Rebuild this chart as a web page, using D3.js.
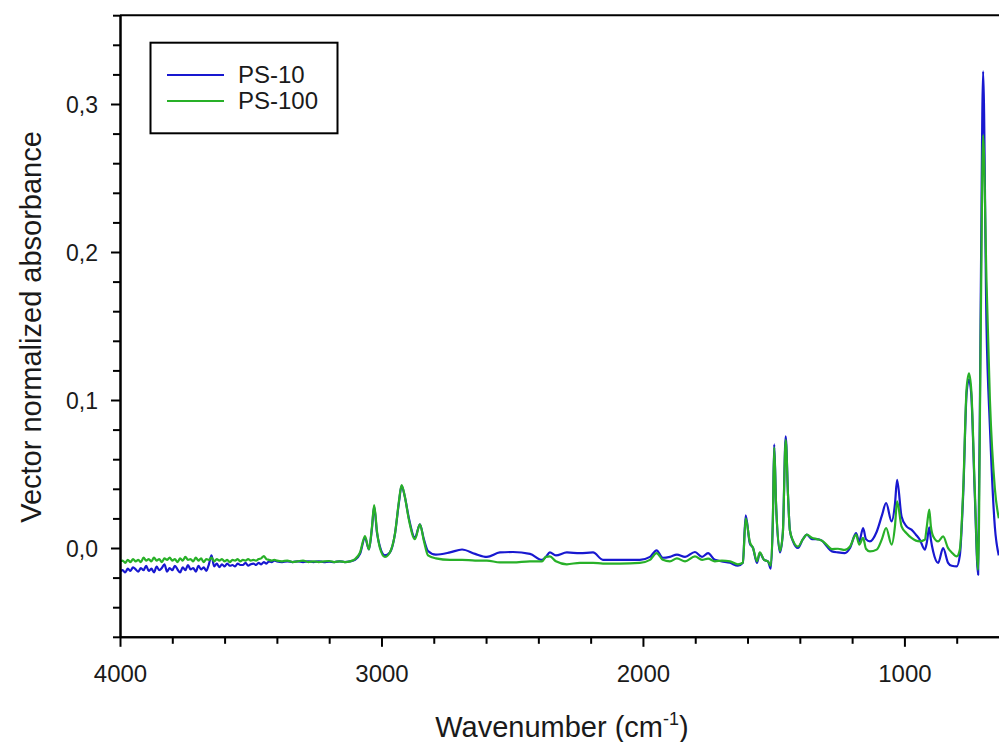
<!DOCTYPE html>
<html>

<head>
    <script src="https://cdnjs.cloudflare.com/ajax/libs/d3/7.8.5/d3.min.js"></script>
    <meta charset="utf-8">
    <title>Index</title>
    <style>
        body { margin: 0; background: #fff; }
        text { font-family: "Liberation Sans", Arial, sans-serif; fill: #1a1a1a; }
    </style>
</head>

<body>
    <script>
    // wavenumbers (cm-1)
    var wavenumber = [
        4000, 3990, 3980, 3970, 3960, 3950, 3940, 3930, 3920, 3910,
        3900, 3890, 3880, 3870, 3860, 3850, 3840, 3830, 3820, 3810,
        3800, 3790, 3780, 3770, 3760, 3750, 3740, 3730, 3720, 3710,
        3700, 3690, 3680, 3670, 3660, 3650, 3640, 3630, 3620, 3610,
        3600, 3590, 3580, 3570, 3560, 3550, 3540, 3530, 3520, 3510,
        3500, 3490, 3480, 3470, 3460, 3450, 3440, 3430, 3420, 3410,
        3400, 3380, 3360, 3340, 3320, 3300, 3280, 3260, 3240, 3220,
        3200, 3180, 3160, 3140, 3120, 3101, 3082, 3063, 3048, 3036,
        3028, 3017, 3006, 2987, 2968, 2948, 2933, 2923, 2911, 2895,
        2872, 2853, 2838, 2822, 2792, 2738, 2692, 2642, 2597, 2547,
        2497, 2432, 2386, 2371, 2356, 2333, 2291, 2241, 2191, 2153,
        2088, 2012, 1973, 1948, 1924, 1897, 1870, 1839, 1801, 1774,
        1751, 1725, 1698, 1667, 1637, 1618, 1607, 1591, 1579, 1564,
        1553, 1537, 1522, 1511, 1503, 1498, 1491, 1476, 1465, 1454,
        1445, 1438, 1426, 1407, 1388, 1373, 1354, 1335, 1316, 1296,
        1277, 1254, 1228, 1208, 1185, 1173, 1158, 1147, 1132, 1106,
        1086, 1070, 1049, 1036, 1028, 1011, 992, 973, 956, 941,
        922, 914, 905, 899, 890, 871, 852, 833, 819, 800,
        788, 775, 762, 753, 744, 731, 718, 708, 699, 686,
        673, 654, 639
    ];

    var ps10 = [
        -0.016, -0.015, -0.0165, -0.014, -0.0155, -0.013, -0.0145, -0.016, -0.0135, -0.015,
        -0.012, -0.0155, -0.014, -0.0165, -0.0125, -0.015, -0.0135, -0.011, -0.016, -0.0135,
        -0.015, -0.012, -0.0145, -0.0165, -0.013, -0.015, -0.0115, -0.0145, -0.0135, -0.016,
        -0.012, -0.0145, -0.013, -0.0155, -0.011, -0.005, -0.0125, -0.0105, -0.013, -0.011,
        -0.0125, -0.0105, -0.012, -0.0115, -0.0125, -0.0105, -0.0115, -0.0115, -0.010, -0.012,
        -0.011, -0.0105, -0.0115, -0.010, -0.011, -0.0095, -0.0105, -0.009, -0.0095, -0.0085,
        -0.009, -0.0095, -0.009, -0.0095, -0.009, -0.0095, -0.009, -0.0095, -0.009, -0.0095,
        -0.0092, -0.0095, -0.009, -0.0095, -0.009, -0.008, -0.004, 0.007, -0.001, 0.014,
        0.028, 0.010, 0.001, -0.005, -0.003, 0.010, 0.031, 0.042, 0.035, 0.020,
        0.007, 0.016, 0.006, -0.002, -0.0045, -0.003, -0.001, -0.004, -0.006, -0.003,
        -0.0027, -0.004, -0.008, -0.006, -0.003, -0.005, -0.003, -0.0035, -0.003, -0.008,
        -0.008, -0.008, -0.006, -0.0016, -0.0066, -0.006, -0.0045, -0.006, -0.0027, -0.006,
        -0.0035, -0.008, -0.009, -0.010, -0.012, -0.010, 0.022, 0.003, 0.000, -0.010,
        -0.0034, -0.008, -0.009, -0.014, 0.020, 0.070, 0.030, -0.003, 0.010, 0.0754,
        0.035, 0.012, 0.0045, 0.000, 0.006, 0.009, 0.006, 0.006, 0.005, 0.001,
        -0.0023, -0.003, -0.0034, 0.000, 0.010, 0.0045, 0.0135, 0.006, 0.0045, 0.011,
        0.022, 0.0304, 0.018, 0.030, 0.0461, 0.0213, 0.0146, 0.0124, 0.009, 0.0056,
        -0.0011, 0.004, 0.014, 0.006, -0.0023, -0.010, 0.000, -0.010, -0.012, -0.0124,
        -0.005, 0.037, 0.105, 0.114, 0.103, 0.037, -0.018, 0.17, 0.322, 0.15,
        0.082, 0.014, -0.005
    ];

    var ps100 = [
        -0.009, -0.0085, -0.010, -0.008, -0.0095, -0.0075, -0.009, -0.008, -0.0095, -0.0065,
        -0.0085, -0.0075, -0.009, -0.0065, -0.0085, -0.0075, -0.0095, -0.007, -0.008, -0.0065,
        -0.0085, -0.0075, -0.0095, -0.007, -0.0085, -0.006, -0.008, -0.0075, -0.009, -0.0065,
        -0.0085, -0.007, -0.0095, -0.0075, -0.008, -0.0065, -0.009, -0.0075, -0.0085, -0.0075,
        -0.009, -0.008, -0.0095, -0.008, -0.0085, -0.0075, -0.009, -0.008, -0.0085, -0.0075,
        -0.0085, -0.008, -0.0085, -0.0075, -0.007, -0.0055, -0.0075, -0.008, -0.0085, -0.008,
        -0.0085, -0.009, -0.0085, -0.0095, -0.009, -0.0085, -0.0095, -0.009, -0.0095, -0.009,
        -0.0088, -0.0095, -0.009, -0.0095, -0.009, -0.0075, -0.003, 0.008, -0.001, 0.015,
        0.029, 0.011, 0.000, -0.006, -0.003, 0.010, 0.032, 0.0425, 0.035, 0.019,
        0.006, 0.016, 0.005, -0.005, -0.007, -0.008, -0.008, -0.0085, -0.0085, -0.0097,
        -0.0097, -0.009, -0.009, -0.006, -0.0057, -0.009, -0.011, -0.010, -0.010, -0.0105,
        -0.0105, -0.010, -0.008, -0.0034, -0.008, -0.009, -0.007, -0.009, -0.0057, -0.008,
        -0.0072, -0.009, -0.0085, -0.009, -0.011, -0.010, 0.020, 0.004, 0.000, -0.009,
        -0.003, -0.008, -0.009, -0.012, 0.020, 0.068, 0.030, -0.002, 0.010, 0.073,
        0.035, 0.012, 0.005, 0.001, 0.006, 0.009, 0.007, 0.006, 0.005, 0.002,
        -0.0007, -0.0005, -0.0013, 0.001, 0.009, 0.0023, 0.0068, -0.0005, -0.0023, -0.0011,
        0.006, 0.0135, 0.0023, 0.015, 0.0315, 0.0146, 0.010, 0.0068, 0.005, 0.0045,
        0.0056, 0.015, 0.026, 0.015, 0.008, 0.0045, 0.0078, -0.0001, -0.003, -0.0057,
        -0.001, 0.040, 0.108, 0.118, 0.106, 0.040, -0.0147, 0.15, 0.279, 0.18,
        0.10, 0.04, 0.02
    ];

    var seriesNames = ['PS-10', 'PS-100'];
    var seriesColors = ['#1818d0', '#28b028'];
    var xMajorTicks = [4000, 3000, 2000, 1000];
    var yMajorTicks = [0, 0.1, 0.2, 0.3];

    var width = 999,
        height = 742,
        plotLeft = 120,
        plotTop = 15.2,
        plotRight = 1009,
        plotBottom = 636.8;

    var svg = d3.select('body')
        .append('svg')
        .attr('width', width)
        .attr('height', height)
        .style('display', 'block');

    var x = d3.scaleLinear().domain([4000, 600]).range([plotLeft, plotRight]);
    var y = d3.scaleLinear().domain([-0.06, 0.36]).range([plotBottom, plotTop]);

    svg.append('clipPath')
        .attr('id', 'plot-clip')
        .append('rect')
        .attr('x', plotLeft)
        .attr('y', plotTop)
        .attr('width', plotRight - plotLeft)
        .attr('height', plotBottom - plotTop);

    // spectra
    var line = d3.line()
        .curve(d3.curveMonotoneX)
        .x(function(d) { return x(d[0]); })
        .y(function(d) { return y(d[1]); });

    [ps10, ps100].forEach(function(vals, k) {
        var pts = wavenumber.map(function(w, i) { return [w, vals[i]]; });
        svg.append('path')
            .datum(pts)
            .attr('clip-path', 'url(#plot-clip)')
            .attr('fill', 'none')
            .attr('stroke', seriesColors[k])
            .attr('stroke-width', 2.2)
            .attr('stroke-linejoin', 'round')
            .attr('d', line);
    });

    // frame (top and right edges)
    svg.append('path')
        .attr('d', 'M' + plotLeft + ',' + plotTop + 'H' + plotRight + 'V' + plotBottom)
        .attr('fill', 'none')
        .attr('stroke', '#000')
        .attr('stroke-width', 2);

    // x axis
    svg.append('g')
        .attr('transform', 'translate(0,' + plotBottom + ')')
        .call(d3.axisBottom(x)
            .tickValues(d3.range(4000, 599, -200).filter(function(v) { return v % 1000 !== 0; }))
            .tickSize(7).tickSizeOuter(0).tickFormat(''));
    var xAxis = svg.append('g')
        .attr('transform', 'translate(0,' + plotBottom + ')')
        .call(d3.axisBottom(x).tickValues(xMajorTicks).tickSize(10).tickSizeOuter(0)
            .tickFormat(d3.format('d')));
    xAxis.selectAll('text')
        .attr('y', 45)
        .attr('dy', null)
        .style('font-size', '24px');

    // y axis
    svg.append('g')
        .attr('transform', 'translate(' + plotLeft + ',0)')
        .call(d3.axisLeft(y)
            .tickValues(d3.range(-6, 37, 2).filter(function(v) { return v % 10 !== 0; }).map(function(v) { return v / 100; }))
            .tickSize(7).tickSizeOuter(0).tickFormat(''));
    var yAxis = svg.append('g')
        .attr('transform', 'translate(' + plotLeft + ',0)')
        .call(d3.axisLeft(y).tickValues(yMajorTicks).tickSize(9).tickSizeOuter(0)
            .tickFormat(function(d) { return d3.format('.1f')(d).replace('.', ','); }));
    yAxis.selectAll('text')
        .attr('x', -22)
        .attr('dy', '0.35em')
        .style('font-size', '23px');

    svg.selectAll('.domain, .tick line')
        .attr('stroke', '#000')
        .attr('stroke-width', 2);
    svg.selectAll('.tick text').style('font-family', '"Liberation Sans", Arial, sans-serif').attr('fill', '#1a1a1a');

    // axis titles
    var xTitle = svg.append('text')
        .attr('x', 562)
        .attr('y', 737)
        .attr('text-anchor', 'middle')
        .style('font-size', '29px');
    xTitle.append('tspan').text('Wavenumber (cm');
    xTitle.append('tspan').attr('dy', -12).style('font-size', '18px').text('-1');
    xTitle.append('tspan').attr('dy', 12).text(')');

    svg.append('text')
        .attr('transform', 'translate(41,327) rotate(-90)')
        .attr('text-anchor', 'middle')
        .style('font-size', '29px')
        .text('Vector normalized absorbance');

    // legend
    var legend = svg.append('g');
    legend.append('rect')
        .attr('x', 150.5)
        .attr('y', 42.7)
        .attr('width', 187)
        .attr('height', 90.6)
        .attr('fill', '#fff')
        .attr('stroke', '#000')
        .attr('stroke-width', 2);
    seriesNames.forEach(function(name, k) {
        var ly = 75 + k * 26;
        legend.append('line')
            .attr('x1', 167).attr('x2', 224)
            .attr('y1', ly).attr('y2', ly)
            .attr('stroke', seriesColors[k])
            .attr('stroke-width', 2);
        legend.append('text')
            .attr('x', 238)
            .attr('y', ly + 8)
            .style('font-size', '24px')
            .text(name);
    });
    </script>
</body>

</html>
